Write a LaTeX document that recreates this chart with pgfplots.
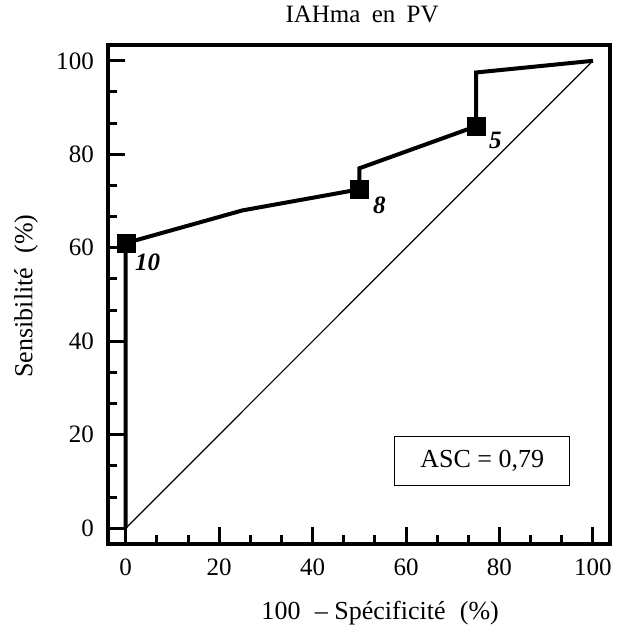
\documentclass[border=0pt]{standalone}
\usepackage{pgfplots}
\pgfplotsset{compat=1.18}
\usepackage{fontspec}
\setmainfont{Liberation Serif}

\begin{document}
\fontsize{25}{29}\selectfont
\begin{tikzpicture}
\begin{axis}[
    scale only axis, width=502pt, height=499pt,
    xmin=-3.8, xmax=103.7, ymin=-3.4, ymax=103.4,
    axis line style={line width=4pt},
    xtick={0,20,...,100}, ytick={0,20,...,100},
    minor tick num=2,
    tick align=inside, tick pos=left,
    major tick length=17pt, minor tick length=9pt,
    every tick/.style={line width=3pt, black},
    /pgf/number format/assume math mode=true,
    xticklabel style={anchor=center, inner sep=0pt, yshift=-23pt},
    yticklabel style={anchor=east, inner sep=0pt, xshift=-14pt},
    title={IAHma\hspace{0.45em}en\hspace{0.45em}PV},
    title style={at={(axis description cs:0.506,1.05)}, anchor=center, inner sep=0pt,
                 font=\fontsize{25}{29}\selectfont},
    xlabel={100\hspace{0.55em}-- Spécificité\hspace{0.55em}(\%)},
    xlabel style={at={(axis description cs:0.542,-0.138)}, anchor=center, inner sep=0pt,
                  font=\fontsize{26}{30}\selectfont},
    ylabel={Sensibilité\hspace{0.55em}(\%)},
    ylabel style={at={(axis description cs:-0.163,0.497)}, anchor=center, inner sep=0pt,
                  font=\fontsize{26}{30}\selectfont},
    clip=false,
]
% diagonale de référence
\addplot[black, line width=1.2pt] coordinates {(0,0) (100,100)};
% courbe ROC
\addplot[black, line width=4pt] coordinates {
    (0,0) (0,61) (25,68) (50,72.5) (50,77) (75,86) (75,97.5) (100,100)};
\addplot[only marks, mark=square*, mark size=9pt, black] coordinates {
    (0,61) (50,72.5) (75,86)};
\node[font=\bfseries\itshape] at (axis cs:4.7,57) {10};
\node[font=\bfseries\itshape] at (axis cs:54.3,69) {8};
\node[font=\bfseries\itshape] at (axis cs:79.1,82.9) {5};
\node[draw, line width=1.2pt, fill=white, minimum width=175pt, minimum height=49pt,
      font=\fontsize{26}{30}\selectfont]
    at (axis cs:76.3,14.4) {ASC = 0,79};
\path (axis description cs:-0.215,-0.166) (axis description cs:1.012,1.09);
\end{axis}
\end{tikzpicture}
\end{document}
